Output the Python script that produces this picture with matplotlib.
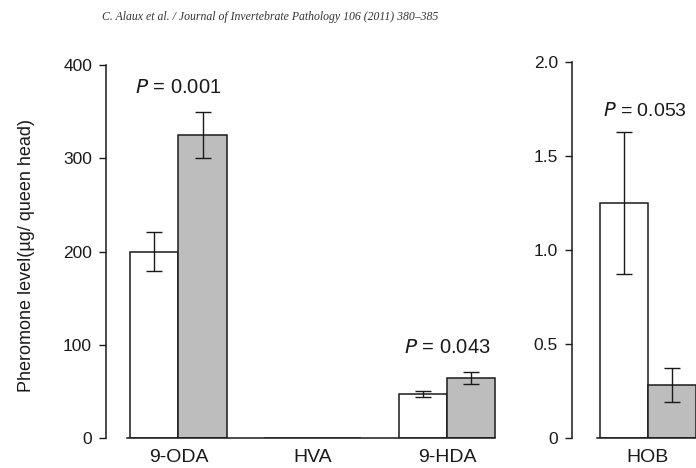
import numpy as np
import matplotlib.pyplot as plt

# data
cats_left = ["9-ODA", "HVA", "9-HDA"]
ctrl_left = [200, 0, 47]
ctrl_left_err = [21, 0, 3.5]
inf_left = [325, 0, 64]
inf_left_err = [25, 0, 6.5]
p_left = ["0.001", None, "0.043"]

cats_right = ["HOB"]
ctrl_right = [1.25]
ctrl_right_err = [0.38]
inf_right = [0.28]
inf_right_err = [0.09]
p_right = ["0.053"]

yticks_left = [0, 100, 200, 300, 400]
yticks_right = [0, 0.5, 1.0, 1.5, 2.0]
yticklabels_right = ["0", "0.5", "1.0", "1.5", "2.0"]

plt.rcParams['font.family'] = ['Liberation Sans', 'DejaVu Sans']
W, H = 696, 468
fig = plt.figure(figsize=(W / 100, H / 100), dpi=100)

w = 0.36
gray = "#bdbdbd"
ink = "#1a1a1a"


def panel(ax, cats, a, ae, b, be, pv, ymax, ticks, ticklabels, pscale):
    x = np.arange(len(cats))
    ax.bar(x - w / 2, a, w, color="white", edgecolor=ink, linewidth=1.1, zorder=2)
    ax.bar(x + w / 2, b, w, color=gray, edgecolor=ink, linewidth=1.1, zorder=2)
    for xi, v, e in zip(x - w / 2, a, ae):
        if v > 0:
            ax.errorbar(xi, v, yerr=e, color=ink, lw=1.0, capsize=6, capthick=1.0, zorder=3)
    for xi, v, e in zip(x + w / 2, b, be):
        if v > 0:
            ax.errorbar(xi, v, yerr=e, color=ink, lw=1.0, capsize=6, capthick=1.0, zorder=3)
    ax.plot([x[0] - w - 0.02, x[-1] + w], [0, 0], color=ink, lw=1.1, zorder=4,
            clip_on=False)
    for xi, v, e, p in zip(x, b, be, pv):
        if p is None:
            continue
        ax.text(xi, v + e + pscale, f"$P$ = {p}", ha="center", va="bottom",
                fontsize=14.5, color=ink)
    ax.set_ylim(0, ymax)
    ax.set_yticks(ticks)
    ax.set_yticklabels(ticklabels)
    ax.set_xticks(x)
    ax.set_xticklabels(cats)
    ax.tick_params(axis="x", length=0, pad=8, labelsize=14, colors=ink)
    ax.tick_params(axis="y", length=5, width=1.0, pad=5, labelsize=12.5, colors=ink)
    for s in ["top", "right", "bottom"]:
        ax.spines[s].set_visible(False)
    ax.spines["left"].set_linewidth(1.1)
    ax.spines["left"].set_color(ink)


# left panel: axis at x=106 px, y0 at 438, top at 65
ax1 = fig.add_axes([106 / W, 1 - 438 / H, (510 - 106) / W, (438 - 65) / H])
ax1.set_xlim(-0.54, (510 - 179) / 134)
panel(ax1, cats_left, ctrl_left, ctrl_left_err, inf_left, inf_left_err, p_left,
      400, yticks_left, [str(t) for t in yticks_left], 16)
ax1.set_ylabel("Pheromone level(µg/ queen head)", fontsize=13, color=ink)
ax1.yaxis.set_label_coords((35 - 106) / (510 - 106), (438 - 255) / (438 - 65))

# right panel (cut off by image edge)
ax2 = fig.add_axes([572 / W, 1 - 438 / H, (780 - 572) / W, (438 - 62) / H])
ax2.set_xlim((572 - 648) / 134, (780 - 648) / 134)
panel(ax2, cats_right, ctrl_right, ctrl_right_err, inf_right, inf_right_err, [None],
      2.0, yticks_right, yticklabels_right, 0)
ax2.text((603 - 648) / 134, 1.74, f"$P$ = {p_right[0]}", ha="left", va="center",
         fontsize=14, color=ink, clip_on=False)

fig.text(270 / W, 1 - 17 / H,
         "C. Alaux et al. / Journal of Invertebrate Pathology 106 (2011) 380–385",
         ha="center", va="center", fontsize=8.5, style="italic",
         family="Liberation Serif", color="#333333")

fig.savefig("out.png", dpi=100)
